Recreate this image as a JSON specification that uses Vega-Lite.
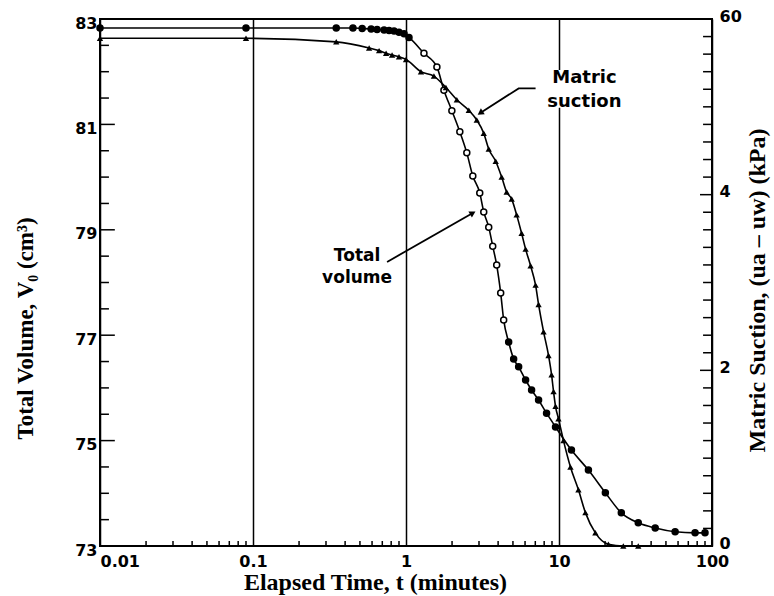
{
  "$schema": "https://vega.github.io/schema/vega-lite/v6.json",
  "width": 612,
  "height": 527,
  "autosize": {"type": "none"},
  "padding": {"left": 100, "top": 19, "right": 62, "bottom": 50},
  "background": "white",
  "datasets": {
    "volume": [
      {"t": 0.01, "V": 82.83}, {"t": 0.09, "V": 82.83}, {"t": 0.35, "V": 82.83}, {"t": 0.45, "V": 82.83},
      {"t": 0.517, "V": 82.82}, {"t": 0.592, "V": 82.81}, {"t": 0.647, "V": 82.8}, {"t": 0.719, "V": 82.79},
      {"t": 0.775, "V": 82.78}, {"t": 0.835, "V": 82.77}, {"t": 0.9, "V": 82.75}, {"t": 0.971, "V": 82.72},
      {"t": 1.046, "V": 82.65}, {"t": 1.31, "V": 82.35}, {"t": 1.592, "V": 82.09}, {"t": 1.769, "V": 81.65},
      {"t": 1.994, "V": 81.26}, {"t": 2.248, "V": 80.86}, {"t": 2.497, "V": 80.46}, {"t": 2.733, "V": 80.02},
      {"t": 3.034, "V": 79.7}, {"t": 3.222, "V": 79.34}, {"t": 3.473, "V": 79.05}, {"t": 3.688, "V": 78.69},
      {"t": 3.915, "V": 78.33}, {"t": 4.158, "V": 77.8}, {"t": 4.349, "V": 77.29}, {"t": 4.688, "V": 76.87},
      {"t": 5.053, "V": 76.55}, {"t": 5.448, "V": 76.4}, {"t": 6.05, "V": 76.15}, {"t": 6.62, "V": 75.96},
      {"t": 7.354, "V": 75.77}, {"t": 8.292, "V": 75.52}, {"t": 9.49, "V": 75.26}, {"t": 12.06, "V": 74.82},
      {"t": 15.57, "V": 74.44}, {"t": 20.09, "V": 74.01}, {"t": 25.54, "V": 73.63}, {"t": 32.96, "V": 73.44},
      {"t": 42.54, "V": 73.34}, {"t": 57.41, "V": 73.27}, {"t": 77.5, "V": 73.25}, {"t": 90, "V": 73.25}
    ],
    "suction": [
      {"t": 0.01, "S": 5.78}, {"t": 0.09, "S": 5.78}, {"t": 0.35, "S": 5.74}, {"t": 0.574, "S": 5.67},
      {"t": 0.667, "S": 5.64}, {"t": 0.741, "S": 5.61}, {"t": 0.811, "S": 5.59}, {"t": 0.9, "S": 5.57},
      {"t": 1.0, "S": 5.54}, {"t": 1.252, "S": 5.4}, {"t": 1.522, "S": 5.35}, {"t": 1.823, "S": 5.22},
      {"t": 2.149, "S": 5.08}, {"t": 2.573, "S": 4.96}, {"t": 2.901, "S": 4.85}, {"t": 3.222, "S": 4.7},
      {"t": 3.473, "S": 4.52}, {"t": 3.857, "S": 4.38}, {"t": 4.221, "S": 4.2}, {"t": 4.55, "S": 4.03},
      {"t": 4.905, "S": 3.95}, {"t": 5.287, "S": 3.77}, {"t": 5.697, "S": 3.56}, {"t": 6.05, "S": 3.38},
      {"t": 6.521, "S": 3.19}, {"t": 7.03, "S": 2.97}, {"t": 7.354, "S": 2.75}, {"t": 7.925, "S": 2.44},
      {"t": 8.54, "S": 2.17}, {"t": 8.94, "S": 1.95}, {"t": 9.21, "S": 1.76}, {"t": 9.49, "S": 1.59},
      {"t": 9.92, "S": 1.45}, {"t": 10.7, "S": 1.2}, {"t": 11.88, "S": 0.9}, {"t": 13.4, "S": 0.64},
      {"t": 14.88, "S": 0.38}, {"t": 17.29, "S": 0.15}, {"t": 21.02, "S": 0.02}, {"t": 26.32, "S": 0.0},
      {"t": 32.96, "S": 0.0}
    ],
    "ticks_v_major": [{"V": 73}, {"V": 75}, {"V": 77}, {"V": 79}, {"V": 81}, {"V": 83}],
    "ticks_v_minor": [
      {"V": 73.5}, {"V": 74}, {"V": 74.5}, {"V": 75.5}, {"V": 76}, {"V": 76.5}, {"V": 77.5}, {"V": 78},
      {"V": 78.5}, {"V": 79.5}, {"V": 80}, {"V": 80.5}, {"V": 81.5}, {"V": 82}, {"V": 82.5}
    ],
    "ticks_s_major": [{"S": 0}, {"S": 2}, {"S": 4}, {"S": 6}],
    "ticks_s_minor": [
      {"S": 0.2}, {"S": 0.4}, {"S": 0.6}, {"S": 0.8}, {"S": 1}, {"S": 1.2}, {"S": 1.4}, {"S": 1.6}, {"S": 1.8},
      {"S": 2.2}, {"S": 2.4}, {"S": 2.6}, {"S": 2.8}, {"S": 3}, {"S": 3.2}, {"S": 3.4}, {"S": 3.6}, {"S": 3.8},
      {"S": 4.2}, {"S": 4.4}, {"S": 4.6}, {"S": 4.8}, {"S": 5}, {"S": 5.2}, {"S": 5.4}, {"S": 5.6}, {"S": 5.8}
    ],
    "ticks_t_minor": [
      {"t": 0.02}, {"t": 0.03}, {"t": 0.04}, {"t": 0.05}, {"t": 0.06}, {"t": 0.07}, {"t": 0.08}, {"t": 0.09},
      {"t": 0.2}, {"t": 0.3}, {"t": 0.4}, {"t": 0.5}, {"t": 0.6}, {"t": 0.7}, {"t": 0.8}, {"t": 0.9},
      {"t": 2}, {"t": 3}, {"t": 4}, {"t": 5}, {"t": 6}, {"t": 7}, {"t": 8}, {"t": 9},
      {"t": 20}, {"t": 30}, {"t": 40}, {"t": 50}, {"t": 60}, {"t": 70}, {"t": 80}, {"t": 90}
    ],
    "annot_v": [
      {"t": 0.479, "V": 78.5, "label": "Total"},
      {"t": 0.479, "V": 78.09, "label": "volume"}
    ],
    "annot_s": [
      {"t": 14.66, "S": 5.33, "label": "Matric"},
      {"t": 14.66, "S": 5.06, "label": "suction"}
    ],
    "annot_box": [{"t1": 8.3, "t2": 26, "S1": 4.99, "S2": 5.42}],
    "arrow_v": [{"t": 0.752, "V": 78.39}, {"t": 2.733, "V": 79.32}],
    "head_v": [{"t": 2.733, "V": 79.32}],
    "arrow_s": [{"t": 7.03, "S": 5.21}, {"t": 5.45, "S": 5.21}, {"t": 3.057, "S": 4.93}],
    "head_s": [{"t": 3.057, "S": 4.93}]
  },
  "layer": [
    {
      "data": {"name": "volume"},
      "mark": {"type": "line", "color": "black", "strokeWidth": 1.6, "interpolate": "monotone"},
      "encoding": {
        "x": {
          "field": "t", "type": "quantitative",
          "scale": {"type": "log", "domain": [0.01, 100], "nice": false},
          "axis": {
            "orient": "bottom",
            "values": [0.01, 0.1, 1, 10, 100],
            "labelExpr": "datum.value < 0.05 ? '0.01' : datum.value < 0.5 ? '0.1' : format(datum.value, 'd')",
            "labelAlign": {"condition": {"test": "datum.value < 0.015", "value": "left"}, "value": "center"},
            "ticks": false,
            "grid": true, "gridColor": "black", "gridWidth": 1.5, "gridOpacity": 1,
            "labelPadding": 7,
            "title": "Elapsed Time, t (minutes)",
            "titleX": 275, "titleY": 43, "titleAlign": "center", "titleBaseline": "alphabetic",
            "titleFontSize": 24
          }
        },
        "y": {
          "field": "V", "type": "quantitative",
          "scale": {"domain": [73, 83], "nice": false, "zero": false},
          "axis": {
            "orient": "left",
            "values": [73, 75, 77, 79, 81, 83],
            "format": "d",
            "ticks": false,
            "labelPadding": 3,
            "labelOffset": 4,
            "title": "Total Volume, V₀ (cm³)",
            "titleX": -75, "titleY": 309, "titleAngle": -90, "titleAlign": "center", "titleBaseline": "middle"
          }
        }
      }
    },
    {
      "data": {"name": "volume"},
      "mark": {"type": "point", "shape": "circle", "size": 36, "strokeWidth": 1.5, "stroke": "black", "opacity": 1, "filled": true},
      "encoding": {
        "x": {"field": "t", "type": "quantitative", "scale": {"type": "log", "domain": [0.01, 100], "nice": false}, "axis": null},
        "y": {"field": "V", "type": "quantitative", "scale": {"domain": [73, 83], "nice": false, "zero": false}, "axis": null},
        "fill": {"condition": {"test": "datum.t > 1.2 && datum.t < 4.5", "value": "white"}, "value": "black"}
      }
    },
    {
      "data": {"name": "ticks_v_major"},
      "mark": {"type": "rule", "color": "black", "strokeWidth": 1.5},
      "encoding": {
        "x": {"datum": 0.01, "type": "quantitative", "scale": {"type": "log", "domain": [0.01, 100], "nice": false}, "axis": null},
        "x2": {"datum": 0.0125},
        "y": {"field": "V", "type": "quantitative", "scale": {"domain": [73, 83], "nice": false, "zero": false}, "axis": null}
      }
    },
    {
      "data": {"name": "ticks_v_minor"},
      "mark": {"type": "rule", "color": "black", "strokeWidth": 1.5},
      "encoding": {
        "x": {"datum": 0.01, "type": "quantitative", "scale": {"type": "log", "domain": [0.01, 100], "nice": false}, "axis": null},
        "x2": {"datum": 0.01144},
        "y": {"field": "V", "type": "quantitative", "scale": {"domain": [73, 83], "nice": false, "zero": false}, "axis": null}
      }
    },
    {
      "data": {"name": "ticks_t_minor"},
      "mark": {"type": "rule", "color": "black", "strokeWidth": 1.5},
      "encoding": {
        "x": {"field": "t", "type": "quantitative", "scale": {"type": "log", "domain": [0.01, 100], "nice": false}, "axis": null},
        "y": {"datum": 73, "type": "quantitative", "scale": {"domain": [73, 83], "nice": false, "zero": false}, "axis": null},
        "y2": {"datum": 73.095}
      }
    },
    {
      "data": {"name": "annot_v"},
      "mark": {"type": "text", "font": "DejaVu Sans", "fontWeight": "bold", "fontSize": 17, "align": "center", "baseline": "middle", "color": "black"},
      "encoding": {
        "x": {"field": "t", "type": "quantitative", "scale": {"type": "log", "domain": [0.01, 100], "nice": false}, "axis": null},
        "y": {"field": "V", "type": "quantitative", "scale": {"domain": [73, 83], "nice": false, "zero": false}, "axis": null},
        "text": {"field": "label"}
      }
    },
    {
      "data": {"name": "arrow_v"},
      "mark": {"type": "line", "color": "black", "strokeWidth": 1.8},
      "encoding": {
        "x": {"field": "t", "type": "quantitative", "scale": {"type": "log", "domain": [0.01, 100], "nice": false}, "axis": null},
        "y": {"field": "V", "type": "quantitative", "scale": {"domain": [73, 83], "nice": false, "zero": false}, "axis": null}
      }
    },
    {
      "data": {"name": "head_v"},
      "mark": {"type": "point", "shape": "triangle-up", "filled": true, "color": "black", "opacity": 1, "size": 50, "angle": 60},
      "encoding": {
        "x": {"field": "t", "type": "quantitative", "scale": {"type": "log", "domain": [0.01, 100], "nice": false}, "axis": null},
        "y": {"field": "V", "type": "quantitative", "scale": {"domain": [73, 83], "nice": false, "zero": false}, "axis": null}
      }
    },
    {
      "data": {"name": "suction"},
      "mark": {"type": "line", "color": "black", "strokeWidth": 1.6, "interpolate": "monotone"},
      "encoding": {
        "x": {"field": "t", "type": "quantitative", "scale": {"type": "log", "domain": [0.01, 100], "nice": false}, "axis": null},
        "y": {
          "field": "S", "type": "quantitative",
          "scale": {"domain": [0, 6], "nice": false, "zero": false},
          "axis": {
            "orient": "right",
            "values": [0, 2, 4, 6],
            "labelExpr": "datum.value > 5 ? '60' : format(datum.value, 'd')",
            "ticks": false,
            "labelPadding": 7,
            "labelOffset": -3,
            "title": "Matric Suction, (ua – uw) (kPa)",
            "titleX": 45, "titleY": 271, "titleAngle": -90, "titleAlign": "center", "titleBaseline": "middle",
            "titleFontSize": 24
          }
        }
      }
    },
    {
      "data": {"name": "suction"},
      "mark": {"type": "point", "shape": "triangle-up", "size": 40, "filled": true, "color": "black", "opacity": 1},
      "encoding": {
        "x": {"field": "t", "type": "quantitative", "scale": {"type": "log", "domain": [0.01, 100], "nice": false}, "axis": null},
        "y": {"field": "S", "type": "quantitative", "scale": {"domain": [0, 6], "nice": false, "zero": false}, "axis": null}
      }
    },
    {
      "data": {"name": "ticks_s_major"},
      "mark": {"type": "rule", "color": "black", "strokeWidth": 1.5},
      "encoding": {
        "x": {"datum": 83.5, "type": "quantitative", "scale": {"type": "log", "domain": [0.01, 100], "nice": false}, "axis": null},
        "x2": {"datum": 100},
        "y": {"field": "S", "type": "quantitative", "scale": {"domain": [0, 6], "nice": false, "zero": false}, "axis": null}
      }
    },
    {
      "data": {"name": "ticks_s_minor"},
      "mark": {"type": "rule", "color": "black", "strokeWidth": 1.5},
      "encoding": {
        "x": {"datum": 87.4, "type": "quantitative", "scale": {"type": "log", "domain": [0.01, 100], "nice": false}, "axis": null},
        "x2": {"datum": 100},
        "y": {"field": "S", "type": "quantitative", "scale": {"domain": [0, 6], "nice": false, "zero": false}, "axis": null}
      }
    },
    {
      "data": {"name": "annot_box"},
      "mark": {"type": "rect", "color": "white", "opacity": 1},
      "encoding": {
        "x": {"field": "t1", "type": "quantitative", "scale": {"type": "log", "domain": [0.01, 100], "nice": false}, "axis": null},
        "x2": {"field": "t2"},
        "y": {"field": "S1", "type": "quantitative", "scale": {"domain": [0, 6], "nice": false, "zero": false}, "axis": null},
        "y2": {"field": "S2"}
      }
    },
    {
      "data": {"name": "annot_s"},
      "mark": {"type": "text", "font": "DejaVu Sans", "fontWeight": "bold", "fontSize": 18, "align": "center", "baseline": "middle", "color": "black"},
      "encoding": {
        "x": {"field": "t", "type": "quantitative", "scale": {"type": "log", "domain": [0.01, 100], "nice": false}, "axis": null},
        "y": {"field": "S", "type": "quantitative", "scale": {"domain": [0, 6], "nice": false, "zero": false}, "axis": null},
        "text": {"field": "label"}
      }
    },
    {
      "data": {"name": "arrow_s"},
      "mark": {"type": "line", "color": "black", "strokeWidth": 1.8},
      "encoding": {
        "x": {"field": "t", "type": "quantitative", "scale": {"type": "log", "domain": [0.01, 100], "nice": false}, "axis": null},
        "y": {"field": "S", "type": "quantitative", "scale": {"domain": [0, 6], "nice": false, "zero": false}, "axis": null}
      }
    },
    {
      "data": {"name": "head_s"},
      "mark": {"type": "point", "shape": "triangle-up", "filled": true, "color": "black", "opacity": 1, "size": 50, "angle": 237},
      "encoding": {
        "x": {"field": "t", "type": "quantitative", "scale": {"type": "log", "domain": [0.01, 100], "nice": false}, "axis": null},
        "y": {"field": "S", "type": "quantitative", "scale": {"domain": [0, 6], "nice": false, "zero": false}, "axis": null}
      }
    }
  ],
  "resolve": {
    "scale": {"y": "independent"},
    "axis": {"x": "independent", "y": "independent"}
  },
  "config": {
    "view": {"stroke": "black", "strokeWidth": 2},
    "axis": {
      "domain": false,
      "grid": false,
      "labelFont": "DejaVu Sans",
      "labelFontWeight": "bold",
      "labelFontSize": 16,
      "labelColor": "black",
      "titleFont": "Liberation Serif",
      "titleFontWeight": "bold",
      "titleFontSize": 23,
      "titleColor": "black"
    }
  }
}
